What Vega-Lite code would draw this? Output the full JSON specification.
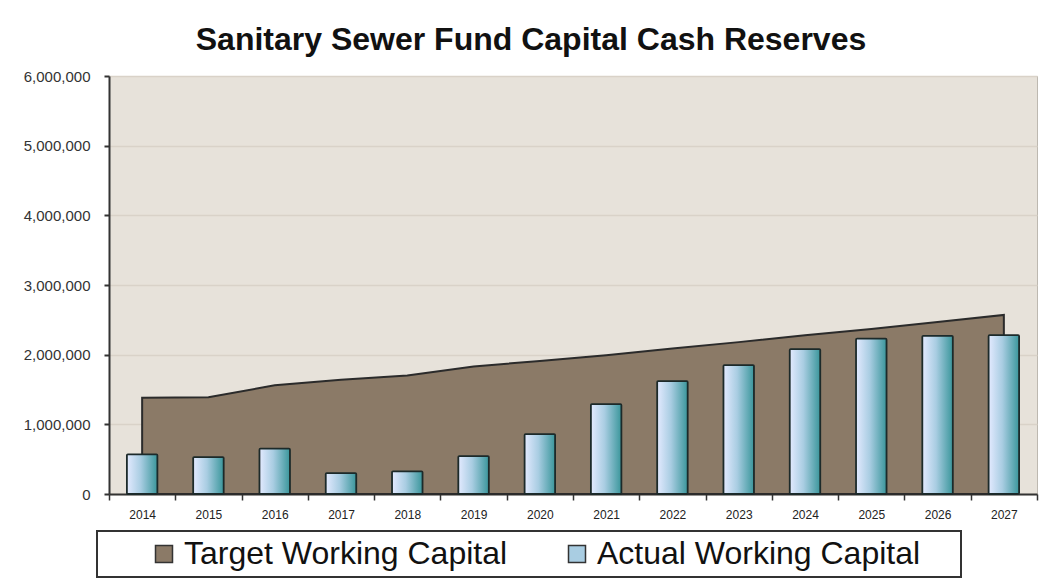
{
  "$schema": "https://vega.github.io/schema/vega-lite/v6.json",
  "autosize": {"type": "none"},
  "width": 928,
  "height": 418,
  "padding": {"left": 109, "top": 76, "right": 7, "bottom": 90},
  "background": "white",
  "title": {
    "text": "Sanitary Sewer Fund Capital Cash Reserves",
    "font": "Liberation Sans",
    "fontSize": 32,
    "fontWeight": "bold",
    "color": "#111111",
    "anchor": "middle",
    "dx": -42,
    "offset": 12
  },
  "config": {
    "view": {"fill": "#e7e2da", "stroke": "#bdb8b0", "strokeWidth": 1},
    "font": "Liberation Sans"
  },
  "data": {
    "values": [
      {"year": "2014", "target": 1380000, "actual": 570000},
      {"year": "2015", "target": 1390000, "actual": 530000},
      {"year": "2016", "target": 1560000, "actual": 650000},
      {"year": "2017", "target": 1640000, "actual": 300000},
      {"year": "2018", "target": 1700000, "actual": 325000},
      {"year": "2019", "target": 1830000, "actual": 545000},
      {"year": "2020", "target": 1910000, "actual": 860000},
      {"year": "2021", "target": 1990000, "actual": 1290000},
      {"year": "2022", "target": 2090000, "actual": 1620000},
      {"year": "2023", "target": 2180000, "actual": 1850000},
      {"year": "2024", "target": 2280000, "actual": 2080000},
      {"year": "2025", "target": 2370000, "actual": 2230000},
      {"year": "2026", "target": 2470000, "actual": 2270000},
      {"year": "2027", "target": 2570000, "actual": 2280000}
    ]
  },
  "layer": [
    {
      "mark": {"type": "area", "stroke": "#2b2b2b", "strokeWidth": 2, "opacity": 1},
      "encoding": {
        "x": {
          "field": "year",
          "type": "ordinal",
          "bandPosition": 0.5,
          "scale": {"paddingInner": 0, "paddingOuter": 0},
          "axis": {
            "title": null,
            "labelAngle": 0,
            "labelFontSize": 12,
            "labelColor": "#222222",
            "labelPadding": 9,
            "tickBand": "extent",
            "tickSize": 6,
            "tickColor": "#333333",
            "tickWidth": 1.5,
            "domainColor": "#333333",
            "domainWidth": 2,
            "grid": false
          }
        },
        "y": {
          "field": "target",
          "type": "quantitative",
          "stack": null,
          "scale": {"domain": [0, 6000000]},
          "axis": {
            "title": null,
            "values": [0, 1000000, 2000000, 3000000, 4000000, 5000000, 6000000],
            "labelExpr": "format(datum.value, ',')",
            "labelFontSize": 15,
            "labelColor": "#333333",
            "labelPadding": 14,
            "tickSize": 5,
            "tickColor": "#333333",
            "tickWidth": 2,
            "domainColor": "#333333",
            "domainWidth": 2,
            "grid": true,
            "gridColor": "#d9d2c8",
            "gridWidth": 1.5
          }
        },
        "color": {
          "datum": "Target Working Capital",
          "type": "nominal",
          "scale": {
            "domain": ["Target Working Capital", "Actual Working Capital"],
            "range": ["#8b7a67", "#a9cde2"]
          },
          "legend": {
            "title": " ",
            "titleOrient": "right",
            "titlePadding": 34,
            "titleFontSize": 10,
            "orient": "none",
            "legendX": -12,
            "legendY": 455,
            "direction": "horizontal",
            "symbolType": "square",
            "symbolSize": 289,
            "symbolStrokeColor": "#333333",
            "symbolStrokeWidth": 1.5,
            "symbolOpacity": 1,
            "symbolOffset": 44,
            "labelFontSize": 32,
            "labelColor": "#111111",
            "labelOffset": 4,
            "labelLimit": 500,
            "columnPadding": 9,
            "padding": 7,
            "strokeColor": "#333333",
            "fillColor": "white",
            "encode": {
              "legend": {"update": {"strokeWidth": {"value": 2}}},
              "symbols": {
                "update": {
                  "stroke": {"value": "#333333"},
                  "strokeWidth": {"value": 1.5}
                }
              }
            }
          }
        }
      }
    },
    {
      "mark": {
        "type": "bar",
        "width": {"band": 0.46},
        "stroke": "#1c2a2a",
        "strokeWidth": 1.8,
        "cornerRadius": 1,
        "fill": {
          "gradient": "linear", "x1": 0, "y1": 0, "x2": 1, "y2": 0,
          "stops": [
            {"offset": 0, "color": "#e3eaff"},
            {"offset": 0.45, "color": "#a9cde2"},
            {"offset": 1, "color": "#3a969b"}
          ]
        }
      },
      "encoding": {
        "x": {"field": "year", "type": "ordinal"},
        "y": {
          "field": "actual",
          "type": "quantitative",
          "stack": null,
          "axis": {
            "title": null,
            "values": [0, 1000000, 2000000, 3000000, 4000000, 5000000, 6000000],
            "labelExpr": "format(datum.value, ',')",
            "labelFontSize": 15,
            "labelColor": "#333333",
            "labelPadding": 14,
            "tickSize": 5,
            "tickColor": "#333333",
            "tickWidth": 2,
            "domainColor": "#333333",
            "domainWidth": 2,
            "grid": true,
            "gridColor": "#d9d2c8",
            "gridWidth": 1.5
          }
        }
      }
    }
  ]
}
